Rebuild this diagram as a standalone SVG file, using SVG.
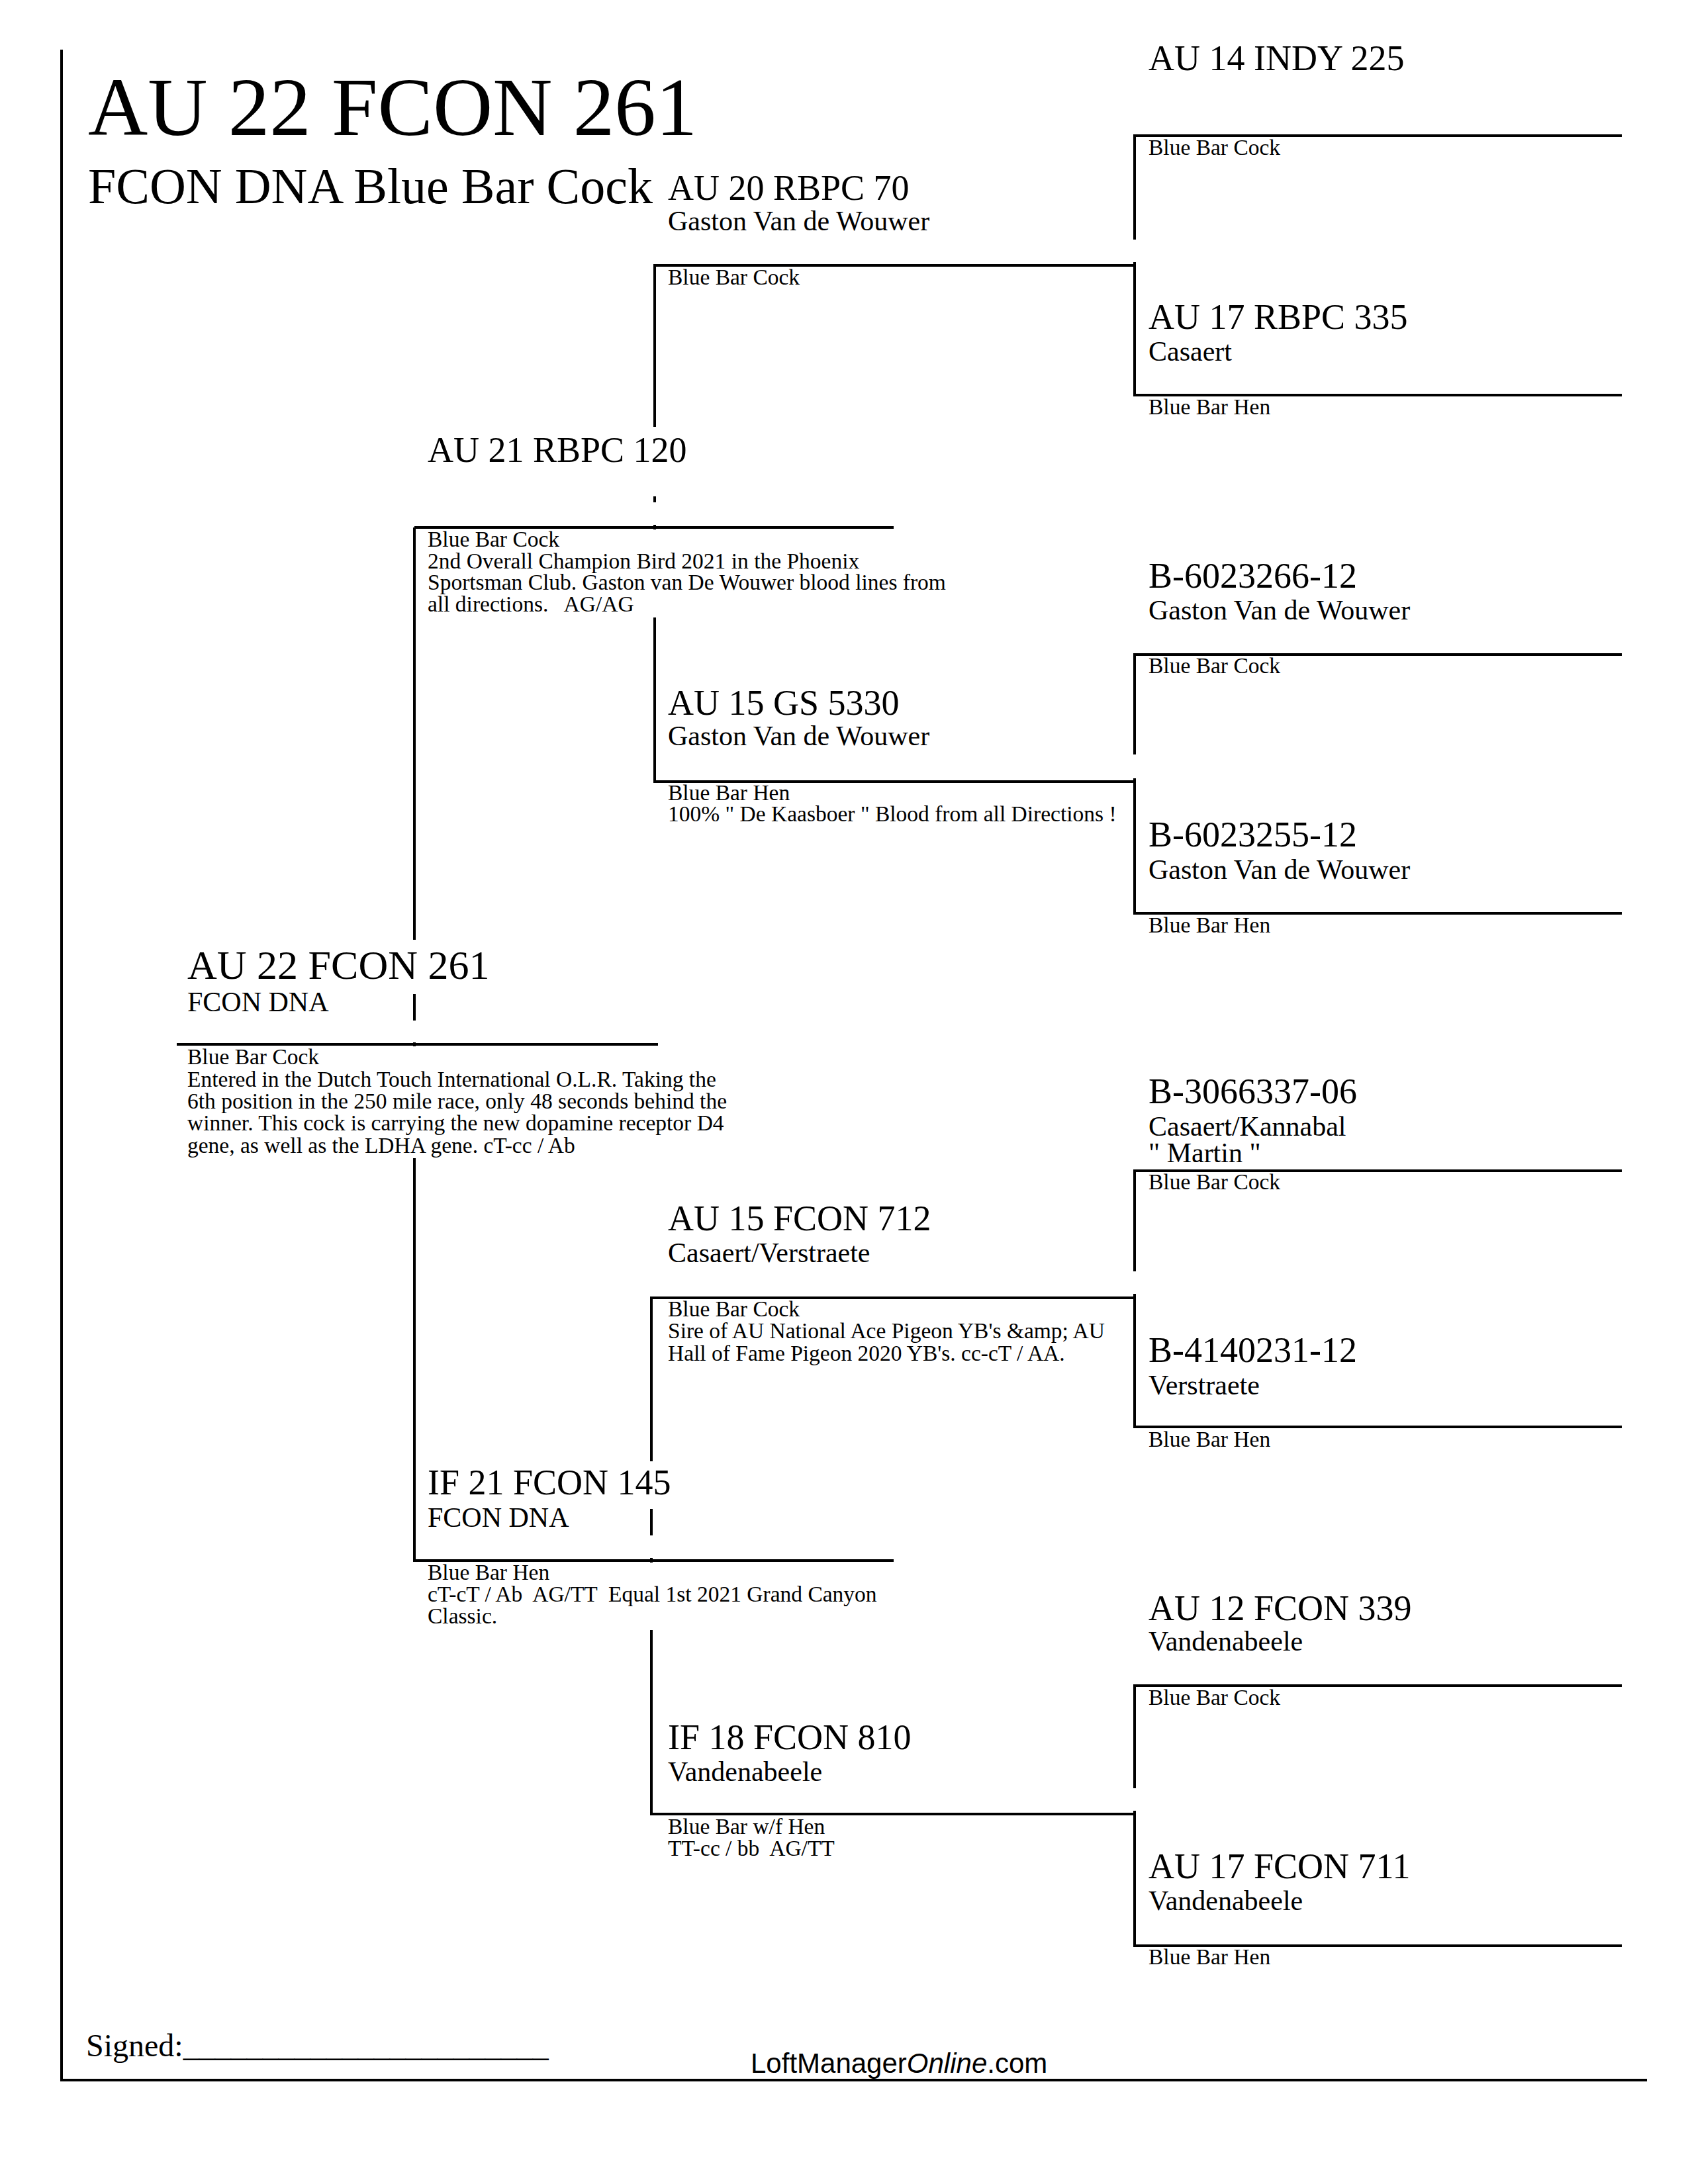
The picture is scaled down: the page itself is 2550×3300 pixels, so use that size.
<svg xmlns="http://www.w3.org/2000/svg" width="2550" height="3300" viewBox="0 0 2550 3300" xml:space="preserve">
<style>
text{font-family:"Liberation Serif","Times New Roman",serif;fill:#000;white-space:pre}
.t1{font-size:125px}
.t2{font-size:76px}
.n1{font-size:62px}
.nm{font-size:54px}
.br{font-size:42px}
.sm{font-size:33.5px}
.sg{font-size:48px}
.ft{font-family:"Liberation Sans",Arial,sans-serif;font-size:42px}
line{stroke:#000;stroke-width:4}
</style>
<rect x="0" y="0" width="2550" height="3300" fill="#fff"/>
<g id="frame">
<line x1="93" y1="75" x2="93" y2="3145"/>
<line x1="91" y1="3143" x2="2488" y2="3143"/>
</g>
<g id="header">
<text class="t1" x="133" y="204">AU 22 FCON 261</text>
<text class="t2" x="133" y="307">FCON DNA Blue Bar Cock</text>
</g>
<g id="connectors">
<line x1="626" y1="797" x2="626" y2="1420"/>
<line x1="626" y1="1502" x2="626" y2="1542"/>
<line x1="626" y1="1575" x2="626" y2="1581"/>
<line x1="626" y1="1750" x2="626" y2="2360"/>
<line x1="989" y1="399" x2="989" y2="645"/>
<line x1="989" y1="750" x2="989" y2="759"/>
<line x1="989" y1="793" x2="989" y2="800"/>
<line x1="989" y1="933" x2="989" y2="1183"/>
<line x1="984" y1="1959" x2="984" y2="2208"/>
<line x1="984" y1="2280" x2="984" y2="2320"/>
<line x1="984" y1="2354" x2="984" y2="2361"/>
<line x1="984" y1="2463" x2="984" y2="2743"/>
<line x1="1714" y1="203" x2="1714" y2="362"/>
<line x1="1714" y1="396" x2="1714" y2="599"/>
<line x1="1714" y1="987" x2="1714" y2="1140"/>
<line x1="1714" y1="1176" x2="1714" y2="1382"/>
<line x1="1714" y1="1767" x2="1714" y2="1921"/>
<line x1="1714" y1="1955" x2="1714" y2="2158"/>
<line x1="1714" y1="2545" x2="1714" y2="2702"/>
<line x1="1714" y1="2736" x2="1714" y2="2942"/>
</g>
<g id="n-au22fcon261">
<line x1="267" y1="1578" x2="994" y2="1578"/>
<text class="n1" x="283" y="1479">AU 22 FCON 261</text>
<text class="br" x="283" y="1528">FCON DNA</text>
<text class="sm" x="283" y="1608">Blue Bar Cock</text>
<text class="sm" x="283" y="1642">Entered in the Dutch Touch International O.L.R. Taking the</text>
<text class="sm" x="283" y="1675">6th position in the 250 mile race, only 48 seconds behind the</text>
<text class="sm" x="283" y="1708">winner. This cock is carrying the new dopamine receptor D4</text>
<text class="sm" x="283" y="1742">gene, as well as the LDHA gene. cT-cc / Ab</text>
</g>
<g id="n-au21rbpc120">
<line x1="626" y1="797" x2="1350" y2="797"/>
<text class="nm" x="646" y="698">AU 21 RBPC 120</text>
<text class="sm" x="646" y="826">Blue Bar Cock</text>
<text class="sm" x="646" y="859">2nd Overall Champion Bird 2021 in the Phoenix</text>
<text class="sm" x="646" y="891">Sportsman Club. Gaston van De Wouwer blood lines from</text>
<text class="sm" x="646" y="924">all directions.   AG/AG</text>
</g>
<g id="n-if21fcon145">
<line x1="626" y1="2358" x2="1350" y2="2358"/>
<text class="nm" x="646" y="2258">IF 21 FCON 145</text>
<text class="br" x="646" y="2307">FCON DNA</text>
<text class="sm" x="646" y="2387">Blue Bar Hen</text>
<text class="sm" x="646" y="2420">cT-cT / Ab  AG/TT  Equal 1st 2021 Grand Canyon</text>
<text class="sm" x="646" y="2453">Classic.</text>
</g>
<g id="n-au20rbpc70">
<line x1="989" y1="401" x2="1714" y2="401"/>
<text class="nm" x="1009" y="302">AU 20 RBPC 70</text>
<text class="br" x="1009" y="348">Gaston Van de Wouwer</text>
<text class="sm" x="1009" y="430">Blue Bar Cock</text>
</g>
<g id="n-au15gs5330">
<line x1="989" y1="1181" x2="1714" y2="1181"/>
<text class="nm" x="1009" y="1080">AU 15 GS 5330</text>
<text class="br" x="1009" y="1126">Gaston Van de Wouwer</text>
<text class="sm" x="1009" y="1209">Blue Bar Hen</text>
<text class="sm" x="1009" y="1241">100% " De Kaasboer " Blood from all Directions !</text>
</g>
<g id="n-au15fcon712">
<line x1="984" y1="1961" x2="1714" y2="1961"/>
<text class="nm" x="1009" y="1859">AU 15 FCON 712</text>
<text class="br" x="1009" y="1907">Casaert/Verstraete</text>
<text class="sm" x="1009" y="1989">Blue Bar Cock</text>
<text class="sm" x="1009" y="2022">Sire of AU National Ace Pigeon YB's &amp;amp; AU</text>
<text class="sm" x="1009" y="2056">Hall of Fame Pigeon 2020 YB's. cc-cT / AA.</text>
</g>
<g id="n-if18fcon810">
<line x1="984" y1="2741" x2="1714" y2="2741"/>
<text class="nm" x="1009" y="2643">IF 18 FCON 810</text>
<text class="br" x="1009" y="2691">Vandenabeele</text>
<text class="sm" x="1009" y="2771">Blue Bar w/f Hen</text>
<text class="sm" x="1009" y="2804">TT-cc / bb  AG/TT</text>
</g>
<g id="n-au14indy225">
<line x1="1714" y1="205" x2="2450" y2="205"/>
<text class="nm" x="1735" y="106">AU 14 INDY 225</text>
<text class="sm" x="1735" y="234">Blue Bar Cock</text>
</g>
<g id="n-au17rbpc335">
<line x1="1714" y1="597" x2="2450" y2="597"/>
<text class="nm" x="1735" y="497">AU 17 RBPC 335</text>
<text class="br" x="1735" y="545">Casaert</text>
<text class="sm" x="1735" y="626">Blue Bar Hen</text>
</g>
<g id="n-b602326612">
<line x1="1714" y1="989" x2="2450" y2="989"/>
<text class="nm" x="1735" y="888">B-6023266-12</text>
<text class="br" x="1735" y="936">Gaston Van de Wouwer</text>
<text class="sm" x="1735" y="1017">Blue Bar Cock</text>
</g>
<g id="n-b602325512">
<line x1="1714" y1="1380" x2="2450" y2="1380"/>
<text class="nm" x="1735" y="1279">B-6023255-12</text>
<text class="br" x="1735" y="1328">Gaston Van de Wouwer</text>
<text class="sm" x="1735" y="1409">Blue Bar Hen</text>
</g>
<g id="n-b306633706">
<line x1="1714" y1="1769" x2="2450" y2="1769"/>
<text class="nm" x="1735" y="1667">B-3066337-06</text>
<text class="br" x="1735" y="1716">Casaert/Kannabal</text>
<text class="br" x="1735" y="1756">" Martin "</text>
<text class="sm" x="1735" y="1797">Blue Bar Cock</text>
</g>
<g id="n-b414023112">
<line x1="1714" y1="2156" x2="2450" y2="2156"/>
<text class="nm" x="1735" y="2058">B-4140231-12</text>
<text class="br" x="1735" y="2107">Verstraete</text>
<text class="sm" x="1735" y="2186">Blue Bar Hen</text>
</g>
<g id="n-au12fcon339">
<line x1="1714" y1="2547" x2="2450" y2="2547"/>
<text class="nm" x="1735" y="2448">AU 12 FCON 339</text>
<text class="br" x="1735" y="2494">Vandenabeele</text>
<text class="sm" x="1735" y="2576">Blue Bar Cock</text>
</g>
<g id="n-au17fcon711">
<line x1="1714" y1="2940" x2="2450" y2="2940"/>
<text class="nm" x="1735" y="2838">AU 17 FCON 711</text>
<text class="br" x="1735" y="2886">Vandenabeele</text>
<text class="sm" x="1735" y="2968">Blue Bar Hen</text>
</g>
<g id="footer">
<text class="sg" x="130" y="3107">Signed:_______________________</text>
<text class="ft" x="1134" y="3132">LoftManager<tspan font-style="italic">Online</tspan>.com</text>
</g>
</svg>
